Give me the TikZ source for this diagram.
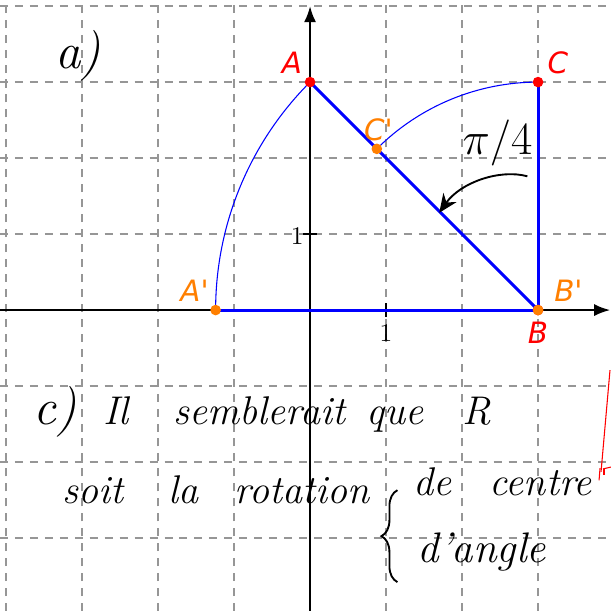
\documentclass[tikz,border=0pt]{standalone}
\usepackage{fontspec}
\newfontfamily\labfont{DejaVu Sans}
\usetikzlibrary{decorations.pathreplacing,arrows.meta}
\definecolor{geored}{RGB}{255,0,0}
\definecolor{geoorange}{RGB}{255,127,0}
\definecolor{geoblue}{RGB}{0,0,255}
\definecolor{gridgray}{RGB}{150,150,150}
\begin{document}
\begin{tikzpicture}[
  gridline/.style={gridgray, line width=0.45pt, dash pattern=on 3pt off 2.6pt},
  axisline/.style={black, line width=0.8pt, -{Latex[length=6pt,width=4.5pt]}},
  seg/.style={geoblue, line width=1.1pt},
  arcline/.style={geoblue, line width=0.4pt},
  redpt/.style={circle, fill=geored, inner sep=0pt, minimum size=0.14cm},
  orpt/.style={circle, fill=geoorange, inner sep=0pt, minimum size=0.14cm},
  redlab/.style={text=geored, font=\labfont\itshape\fontsize{11}{12}\selectfont, inner sep=0pt},
  orlab/.style={text=geoorange, font=\labfont\itshape\fontsize{11}{12}\selectfont, inner sep=0pt},
  ticklab/.style={font=\fontsize{9.5}{10}\selectfont, inner sep=0pt},
  hand/.style={font=\itshape\fontsize{15}{17}\selectfont, anchor=base west, inner sep=0pt},
  bighand/.style={font=\itshape\fontsize{19}{22}\selectfont, anchor=base west, inner sep=0pt},
]
\useasboundingbox (-4.08,-3.96) rectangle (3.96,4.08);

% grid
\foreach \x in {-4,-3,-2,-1,1,2,3}{
  \draw[gridline] (\x,-3.96) -- (\x,4.08);
}
\foreach \y in {-3,-2,-1,1,2,3,4}{
  \draw[gridline] (-4.08,\y) -- (3.96,\y);
}

% axes
\coordinate (xl) at (-4.08,0);
\coordinate (xr) at (3.95,0);
\coordinate (yb) at (0,-3.96);
\coordinate (yt) at (0,4.0);
\draw[axisline] (xl) -- (xr);
\draw[axisline] (yb) -- (yt);

% ticks
\coordinate (tx1) at (1,-0.09);
\coordinate (tx2) at (1,0.09);
\coordinate (ty1) at (-0.09,1);
\coordinate (ty2) at (0.09,1);
\draw[line width=0.7pt] (tx1) -- (tx2);
\draw[line width=0.7pt] (ty1) -- (ty2);
\node[ticklab] (lx) at (1,-0.3) {1};
\node[ticklab, anchor=east] (ly) at (-0.08,0.98) {1};

% points
\coordinate (A) at (0,3);
\coordinate (B) at (3,0);
\coordinate (C) at (3,3);
\coordinate (Ap) at ({3-3*sqrt(2)},0);
\coordinate (Cp) at ({3-1.5*sqrt(2)},{1.5*sqrt(2)});

% arcs
\draw[arcline] (Ap) arc[start angle=180, end angle=135, radius={3*sqrt(2)}];
\draw[arcline] (Cp) arc[start angle=135, end angle=90, radius=3];

% segments
\draw[seg] (Ap) -- (B);
\draw[seg] (A) -- (B);
\draw[seg] (B) -- (C);

% dots
\node[redpt] (dA) at (A) {};
\node[redpt] (dC) at (C) {};
\node[redpt] (dB) at (B) {};
\node[orpt] (dBp) at (B) {};
\node[orpt] (dAp) at (Ap) {};
\node[orpt] (dCp) at (Cp) {};

% labels
\node[redlab] (lA) at (-0.237,3.25) {A};
\node[redlab] (lC) at (3.26,3.25) {C};
\node[redlab] (lB) at (3.0,-0.30) {B};
\node[orlab] (lAp) at (-1.52,0.26) {A'};
\node[orlab] (lBp) at (3.40,0.26) {B'};
\node[orlab] (lCp) at (0.90,2.37) {C'};

% pi/4 annotation
\node[anchor=base west, inner sep=0pt, font=\fontsize{16}{18}\selectfont] (pi4) at (2.0,2.05) {$\pi/4$};
\coordinate (arS) at (2.86,1.76);
\coordinate (arE) at (1.70,1.28);
\draw[line width=0.7pt, -{Stealth[length=7pt,width=6pt]}] (arS) .. controls (2.50,1.86) and (1.98,1.68) .. (arE);

% handwriting
\node[bighand] (ta) at (-3.36,3.18) {a)};
\node[bighand] (tc) at (-3.64,-1.51) {c)};
\node[hand] (w1) at (-2.72,-1.51) {Il};
\node[hand] (w2) at (-1.80,-1.51) {semblerait};
\node[hand] (w3) at (0.74,-1.51) {que};
\node[hand] (w4) at (2.00,-1.51) {R};
\node[hand] (w5) at (-3.26,-2.54) {soit};
\node[hand] (w6) at (-1.87,-2.54) {la};
\node[hand] (w7) at (-1.00,-2.54) {rotation};
\node[hand] (w8) at (1.36,-2.44) {de};
\node[hand] (w9) at (2.36,-2.44) {centre};
\node[hand, font=\itshape\fontsize{16}{18}\selectfont] (w10) at (1.41,-3.32) {d'angle};
\coordinate (brB) at (1.15,-3.58);
\coordinate (brT) at (1.15,-2.37);
\draw[line width=0.7pt, decorate, decoration={brace, amplitude=6pt}] (brB) -- (brT);

% red mark at right edge
\coordinate (r1) at (3.947,-0.79);
\coordinate (r2) at (3.829,-2.13);
\coordinate (r3) at (3.803,-2.24);
\coordinate (r4) at (3.816,-2.08);
\coordinate (r5) at (3.855,-2.09);
\coordinate (r6) at (3.96,-2.066);
\coordinate (r7) at (3.868,-2.092);
\coordinate (r8) at (3.868,-2.17);
\draw[geored, line width=0.4pt] (r1) -- (r2);
\draw[geored, line width=0.4pt] (r3) -- (r4);
\draw[geored, line width=0.4pt] (r5) -- (r6);
\draw[geored, line width=0.4pt] (r7) -- (r8);
\end{tikzpicture}
\end{document}
